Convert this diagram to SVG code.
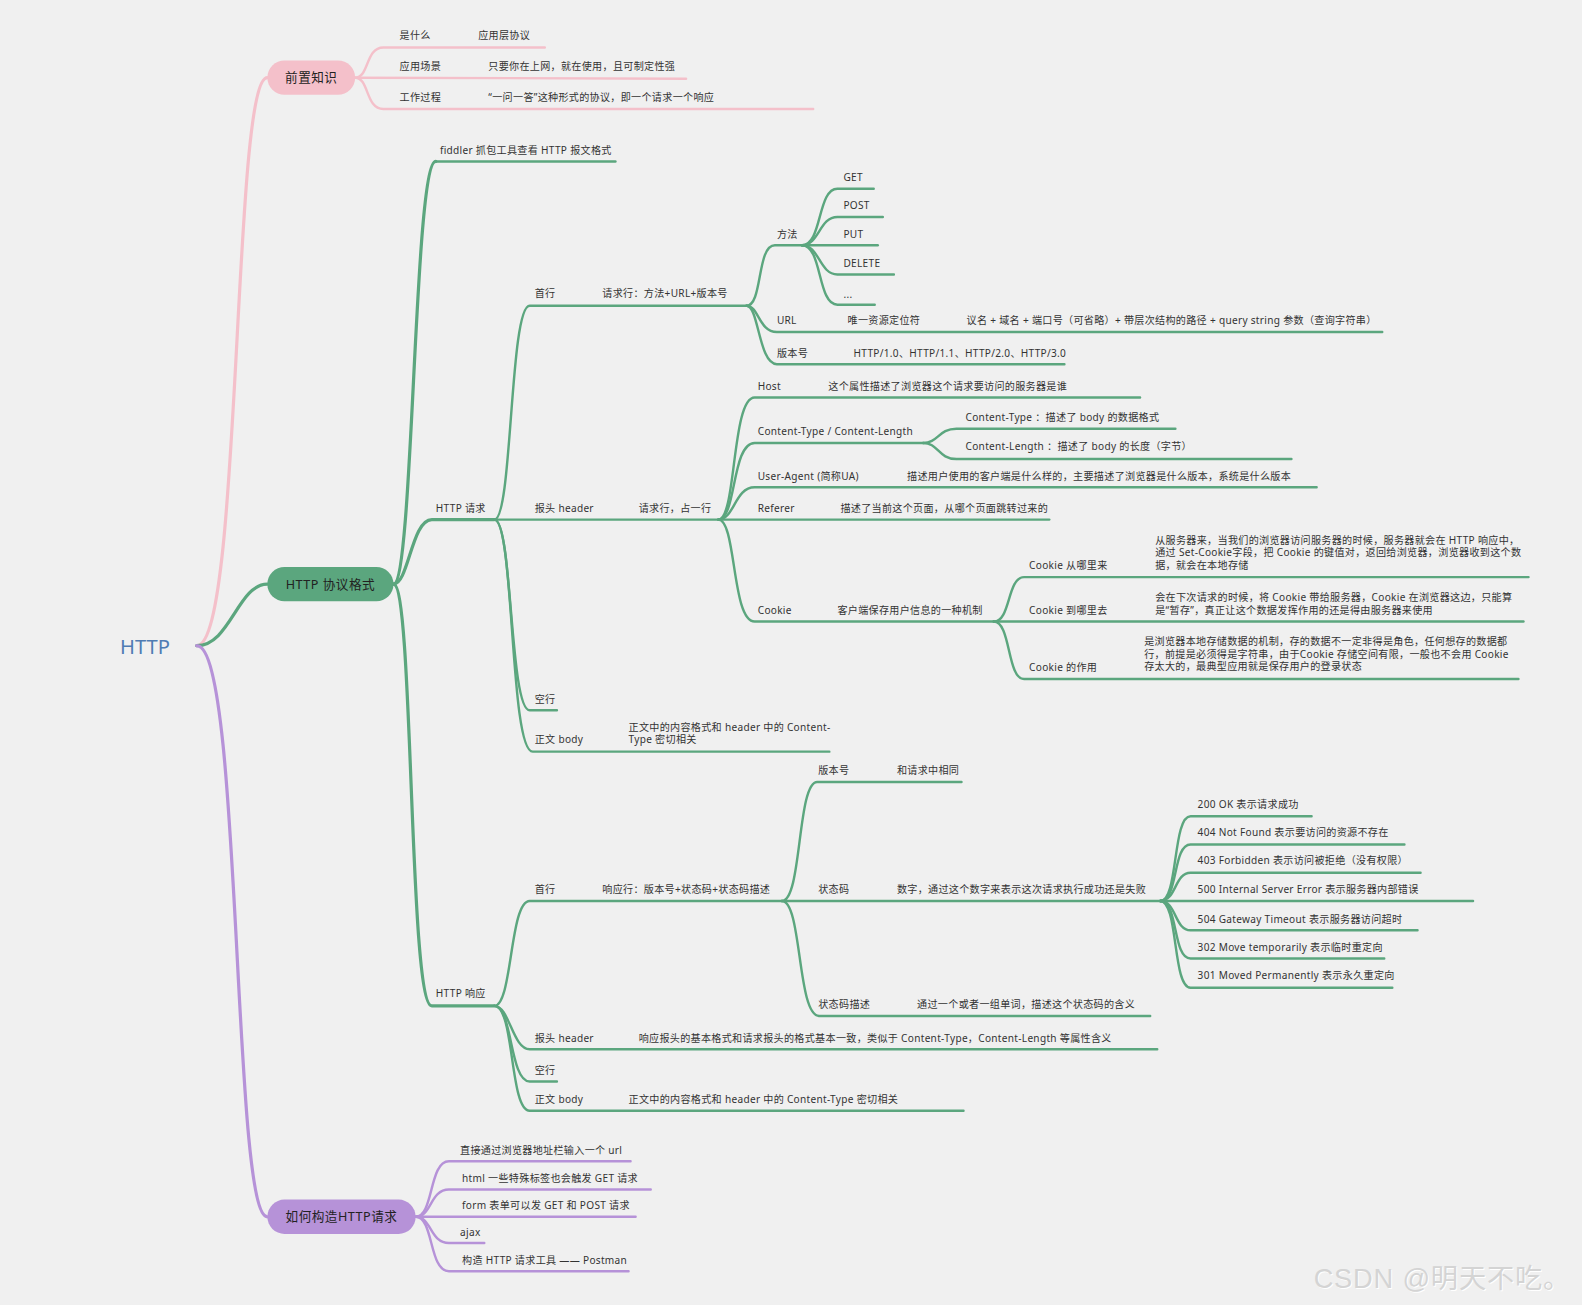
<svg xmlns="http://www.w3.org/2000/svg" width="1582" height="1305" viewBox="0 0 1582 1305">
<style>
.t{font-family:"Noto Sans","Noto Sans CJK SC",sans-serif;font-size:10px;fill:#333;letter-spacing:0.3px}
.pt{font-family:"Noto Sans","Noto Sans CJK SC",sans-serif;font-size:12.5px;fill:#222;text-anchor:middle;letter-spacing:0.5px}
.c{fill:none;stroke-linecap:round;stroke-linejoin:round}
.g{stroke:#5ba67e;stroke-width:2.4}
.g3{stroke:#5ba67e;stroke-width:3.2}
.p{stroke:#f4c0ca;stroke-width:2.4}
.p3{stroke:#f4c0ca;stroke-width:3.2}
.v{stroke:#b692d8;stroke-width:2.4}
.v3{stroke:#b692d8;stroke-width:3.2}
.wm{font-family:"Liberation Sans","Noto Sans CJK SC",sans-serif;font-size:27px;letter-spacing:0.8px}
</style>
<rect width="1582" height="1305" fill="#f0f0f0"/>
<g transform="scale(1.00893)">
<g id="connectors">
<path class="c p3" d="M195,640 C240,640 230,77 265,77"/>
<path class="c p" d="M352,77 C366,77 362,47 380,47 L540,47"/>
<path class="c p" d="M352,77 L680,78"/>
<path class="c p" d="M352,77 C366,77 362,108 380,108 L806,108"/>
<path class="c g3" d="M195,640 C228,640 236,579 265,579"/>
<path class="c g3" d="M390,579 C410,579 410,160 432,160"/>
<path class="c g" d="M432,160 L610,160"/>
<path class="c g3" d="M390,579 C405,579 408,515 428,515 L490,515"/>
<path class="c g3" d="M390,579 C410,579 405,997 428,997 L490,997"/>
<path class="c g" d="M490,515 C508,515 505,303 525,303 L740,303"/>
<path class="c g" d="M490,515 L712,515"/>
<path class="c g" d="M490,515 C508,515 505,704 525,704 L552,704"/>
<path class="c g" d="M490,515 C510,515 505,745 528,745 L822,745"/>
<path class="c g" d="M740,303 C756,303 750,243 768,243 L795,243"/>
<path class="c g" d="M740,303 C752,303 752,329 770,329 L1370,329"/>
<path class="c g" d="M740,303 C752,303 752,361 770,361 L1055,361"/>
<path class="c g" d="M795,243 C815,243 810,187 830,187 L866,187"/>
<path class="c g" d="M795,243 C812,243 812,215 830,215 L875,215"/>
<path class="c g" d="M795,243 L870,243"/>
<path class="c g" d="M795,243 C812,243 812,272 830,272 L886,272"/>
<path class="c g" d="M795,243 C815,243 810,302 830,302 L867,302"/>
<path class="c g" d="M712,515 C730,515 725,394 748,394 L1130,394"/>
<path class="c g" d="M712,515 C730,515 725,439 748,439 L915,439"/>
<path class="c g" d="M712,515 C728,515 728,483 748,483 L1305,483"/>
<path class="c g" d="M712,515 L1040,515"/>
<path class="c g" d="M712,515 C730,515 725,616 748,616 L985,616"/>
<path class="c g" d="M915,439 C930,439 930,425 948,425 L1165,425"/>
<path class="c g" d="M915,439 C930,439 930,455 948,455 L1280,455"/>
<path class="c g" d="M985,616 C1002,616 998,572 1015,572 L1515,572"/>
<path class="c g" d="M985,616 L1510,616"/>
<path class="c g" d="M985,616 C1002,616 998,673 1015,673 L1505,673"/>
<path class="c g" d="M490,997 C508,997 505,893 525,893 L775,893"/>
<path class="c g" d="M490,997 C505,997 508,1040 525,1040 L1147,1040"/>
<path class="c g" d="M490,997 C508,997 505,1072 525,1072 L552,1072"/>
<path class="c g" d="M490,997 C510,997 505,1101 525,1101 L955,1101"/>
<path class="c g" d="M775,893 C795,893 790,775 810,775 L953,775"/>
<path class="c g" d="M775,893 L1150,893"/>
<path class="c g" d="M775,893 C795,893 790,1007 812,1007 L1140,1007"/>
<path class="c g" d="M1150,893 C1168,893 1162,809 1180,809 L1300,809"/>
<path class="c g" d="M1150,893 C1168,893 1162,837 1180,837 L1392,837"/>
<path class="c g" d="M1150,893 C1166,893 1164,865 1180,865 L1408,865"/>
<path class="c g" d="M1150,893 L1460,893"/>
<path class="c g" d="M1150,893 C1166,893 1164,922 1180,922 L1405,922"/>
<path class="c g" d="M1150,893 C1168,893 1162,950 1180,950 L1372,950"/>
<path class="c g" d="M1150,893 C1168,893 1162,979 1180,979 L1380,979"/>
<path class="c v3" d="M195,640 C240,640 230,1206 265,1206"/>
<path class="c v" d="M412,1206 C430,1206 425,1151 445,1151 L625,1151"/>
<path class="c v" d="M412,1206 C428,1206 426,1179 445,1179 L645,1179"/>
<path class="c v" d="M412,1206 L630,1206"/>
<path class="c v" d="M412,1206 C428,1206 426,1232 445,1232 L480,1232"/>
<path class="c v" d="M412,1206 C430,1206 425,1260 445,1260 L623,1260"/>
</g>
<g id="root"><text x="119" y="648" style="font-family:'Noto Sans',sans-serif;font-size:20px;fill:#4f7cb3">HTTP</text></g>
<g id="n-qianzhi"><rect x="265" y="60" width="87" height="34" rx="17" fill="#f4c0ca"/><text class="pt" x="308.5" y="81.5">前置知识</text></g>
<g id="n-shishenme"><text class="t" x="396" y="38.5">是什么</text></g>
<g id="n-yingyongceng"><text class="t" x="474" y="38.5">应用层协议</text></g>
<g id="n-changjing"><text class="t" x="396" y="69.5">应用场景</text></g>
<g id="n-changjing-v"><text class="t" x="484" y="69.5">只要你在上网，就在使用，且可制定性强</text></g>
<g id="n-guocheng"><text class="t" x="396" y="100.5">工作过程</text></g>
<g id="n-guocheng-v"><text class="t" x="484" y="100.5">“一问一答”这种形式的协议，即一个请求一个响应</text></g>
<g id="n-geshi"><rect x="265" y="562" width="125" height="34" rx="17" fill="#5ba67e"/><text class="pt" x="327.5" y="583.5">HTTP 协议格式</text></g>
<g id="n-fiddler"><text class="t" x="436" y="152.5">fiddler 抓包工具查看 HTTP 报文格式</text></g>
<g id="n-req"><text class="t" x="432" y="507.5">HTTP 请求</text></g>
<g id="n-req-first"><text class="t" x="530" y="294.5">首行</text></g>
<g id="n-req-line"><text class="t" x="597" y="294.5">请求行：方法+URL+版本号</text></g>
<g id="n-method"><text class="t" x="770" y="235.5">方法</text></g>
<g id="n-get"><text class="t" x="836" y="179.5">GET</text></g>
<g id="n-post"><text class="t" x="836" y="207.5">POST</text></g>
<g id="n-put"><text class="t" x="836" y="235.5">PUT</text></g>
<g id="n-delete"><text class="t" x="836" y="264.5">DELETE</text></g>
<g id="n-etc"><text class="t" x="836" y="295.5">...</text></g>
<g id="n-url"><text class="t" x="770" y="321.5">URL</text></g>
<g id="n-url-d"><text class="t" x="840" y="321.5">唯一资源定位符</text></g>
<g id="n-url-v"><text class="t" x="958" y="321.5">议名 + 域名 + 端口号（可省略）+ 带层次结构的路径 + query string 参数（查询字符串）</text></g>
<g id="n-ver"><text class="t" x="770" y="353.5">版本号</text></g>
<g id="n-ver-v"><text class="t" x="846" y="353.5">HTTP/1.0、HTTP/1.1、HTTP/2.0、HTTP/3.0</text></g>
<g id="n-req-header"><text class="t" x="530" y="507.5">报头 header</text></g>
<g id="n-req-header-v"><text class="t" x="633" y="507.5">请求行，占一行</text></g>
<g id="n-host"><text class="t" x="751" y="386.5">Host</text></g>
<g id="n-host-v"><text class="t" x="821" y="386.5">这个属性描述了浏览器这个请求要访问的服务器是谁</text></g>
<g id="n-ct"><text class="t" x="751" y="431.5">Content-Type / Content-Length</text></g>
<g id="n-ct1"><text class="t" x="957" y="417.5">Content-Type ：描述了 body 的数据格式</text></g>
<g id="n-ct2"><text class="t" x="957" y="446.5">Content-Length ：描述了 body 的长度（字节）</text></g>
<g id="n-ua"><text class="t" x="751" y="475.5">User-Agent (简称UA)</text></g>
<g id="n-ua-v"><text class="t" x="899" y="475.5">描述用户使用的客户端是什么样的，主要描述了浏览器是什么版本，系统是什么版本</text></g>
<g id="n-referer"><text class="t" x="751" y="507.5">Referer</text></g>
<g id="n-referer-v"><text class="t" x="833" y="507.5">描述了当前这个页面，从哪个页面跳转过来的</text></g>
<g id="n-cookie"><text class="t" x="751" y="608.5">Cookie</text></g>
<g id="n-cookie-v"><text class="t" x="830" y="608.5">客户端保存用户信息的一种机制</text></g>
<g id="n-cookie-from"><text class="t" x="1020" y="563.5">Cookie 从哪里来</text></g>
<g id="n-cookie-from-v"><text class="t" x="1145" y="539.5">从服务器来，当我们的浏览器访问服务器的时候，服务器就会在 HTTP 响应中，</text><text class="t" x="1145" y="551.5">通过 Set-Cookie字段，把 Cookie 的键值对，返回给浏览器，浏览器收到这个数</text><text class="t" x="1145" y="563.5">据，就会在本地存储</text></g>
<g id="n-cookie-to"><text class="t" x="1020" y="608.5">Cookie 到哪里去</text></g>
<g id="n-cookie-to-v"><text class="t" x="1145" y="595.5">会在下次请求的时候，将 Cookie 带给服务器，Cookie 在浏览器这边，只能算</text><text class="t" x="1145" y="608.5">是“暂存”，真正让这个数据发挥作用的还是得由服务器来使用</text></g>
<g id="n-cookie-use"><text class="t" x="1020" y="665.5">Cookie 的作用</text></g>
<g id="n-cookie-use-v"><text class="t" x="1134" y="639.5">是浏览器本地存储数据的机制，存的数据不一定非得是角色，任何想存的数据都</text><text class="t" x="1134" y="652.5">行，前提是必须得是字符串，由于Cookie 存储空间有限，一般也不会用 Cookie</text><text class="t" x="1134" y="664.5">存太大的，最典型应用就是保存用户的登录状态</text></g>
<g id="n-req-empty"><text class="t" x="530" y="696.5">空行</text></g>
<g id="n-req-body"><text class="t" x="530" y="736.5">正文 body</text></g>
<g id="n-req-body-v"><text class="t" x="623" y="724.5">正文中的内容格式和 header 中的 Content-</text><text class="t" x="623" y="736.5">Type 密切相关</text></g>
<g id="n-resp"><text class="t" x="432" y="988.5">HTTP 响应</text></g>
<g id="n-resp-first"><text class="t" x="530" y="885.5">首行</text></g>
<g id="n-resp-line"><text class="t" x="597" y="885.5">响应行：版本号+状态码+状态码描述</text></g>
<g id="n-resp-ver"><text class="t" x="811" y="767.5">版本号</text></g>
<g id="n-resp-ver-v"><text class="t" x="889" y="767.5">和请求中相同</text></g>
<g id="n-status"><text class="t" x="811" y="885.5">状态码</text></g>
<g id="n-status-v"><text class="t" x="889" y="885.5">数字，通过这个数字来表示这次请求执行成功还是失败</text></g>
<g id="n-200"><text class="t" x="1187" y="800.5">200 OK 表示请求成功</text></g>
<g id="n-404"><text class="t" x="1187" y="828.5">404 Not Found 表示要访问的资源不存在</text></g>
<g id="n-403"><text class="t" x="1187" y="856.5">403 Forbidden 表示访问被拒绝（没有权限）</text></g>
<g id="n-500"><text class="t" x="1187" y="885.5">500 Internal Server Error 表示服务器内部错误</text></g>
<g id="n-504"><text class="t" x="1187" y="914.5">504 Gateway Timeout 表示服务器访问超时</text></g>
<g id="n-302"><text class="t" x="1187" y="942.5">302 Move temporarily 表示临时重定向</text></g>
<g id="n-301"><text class="t" x="1187" y="970.5">301 Moved Permanently 表示永久重定向</text></g>
<g id="n-status-desc"><text class="t" x="811" y="999.5">状态码描述</text></g>
<g id="n-status-desc-v"><text class="t" x="909" y="999.5">通过一个或者一组单词，描述这个状态码的含义</text></g>
<g id="n-resp-header"><text class="t" x="530" y="1032.5">报头 header</text></g>
<g id="n-resp-header-v"><text class="t" x="633" y="1032.5">响应报头的基本格式和请求报头的格式基本一致，类似于 Content-Type，Content-Length 等属性含义</text></g>
<g id="n-resp-empty"><text class="t" x="530" y="1064.5">空行</text></g>
<g id="n-resp-body"><text class="t" x="530" y="1093.5">正文 body</text></g>
<g id="n-resp-body-v"><text class="t" x="623" y="1093.5">正文中的内容格式和 header 中的 Content-Type 密切相关</text></g>
<g id="n-build"><rect x="265" y="1189" width="147" height="34" rx="17" fill="#b692d8"/><text class="pt" x="338.5" y="1210.5">如何构造HTTP请求</text></g>
<g id="n-b1"><text class="t" x="456" y="1143.5">直接通过浏览器地址栏输入一个 url</text></g>
<g id="n-b2"><text class="t" x="458" y="1171.5">html 一些特殊标签也会触发 GET 请求</text></g>
<g id="n-b3"><text class="t" x="458" y="1198.5">form 表单可以发 GET 和 POST 请求</text></g>
<g id="n-b4"><text class="t" x="456" y="1225.5">ajax</text></g>
<g id="n-b5"><text class="t" x="458" y="1252.5">构造 HTTP 请求工具 —— Postman</text></g>
<g id="watermark"><text class="wm" x="1303" y="1278" fill="#ffffff">CSDN @明天不吃。</text><text class="wm" x="1302" y="1277" fill="#d4d4d4">CSDN @明天不吃。</text></g>
</g>
</svg>
